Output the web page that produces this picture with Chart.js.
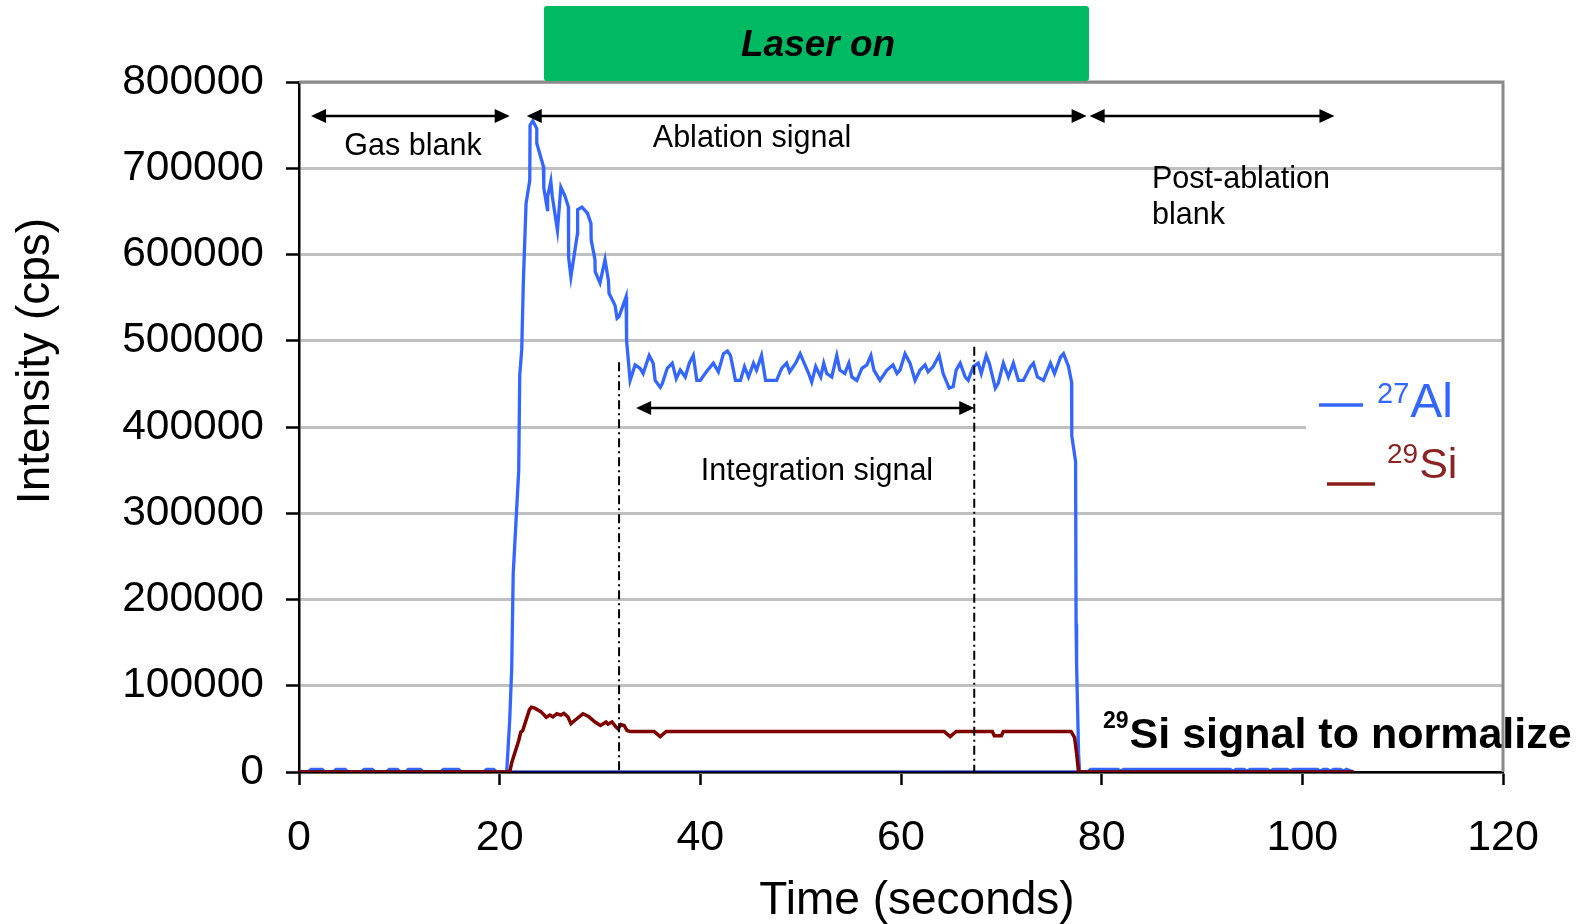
<!DOCTYPE html>
<html>
<head>
<meta charset="utf-8">
<script src="https://cdn.jsdelivr.net/npm/chart.js@4.4.0/dist/chart.umd.min.js"></script>
<style>
  html, body { margin: 0; padding: 0; background: #fff; overflow: hidden; }
  #wrap { width: 1577px; height: 924px; }
</style>
</head>
<body>
<div id="wrap"><canvas id="chart" width="1577" height="924"></canvas></div>
<script>
// time (s), intensity (cps)
const al27 = [
  [0, 0], [0.9, 0], [1.2, 3000], [2.3, 3000], [2.6, 0], [3.4, 0], [3.7, 3000], [4.6, 3000], [4.9, 0],
  [6.2, 0], [6.5, 3000], [7.3, 3000], [7.6, 0], [8.7, 0], [9.0, 3000], [9.8, 3000], [10.1, 0],
  [10.6, 0], [10.9, 3000], [12.1, 3000], [12.4, 0], [14.1, 0], [14.4, 3000], [15.9, 3000], [16.2, 0],
  [18.4, 0], [18.7, 3000], [19.4, 3000], [19.7, 0], [20.7, 0],
  [21.0, 60000], [21.2, 120000], [21.35, 230000], [21.9, 350000], [22.0, 460000], [22.2, 490000],
  [22.36, 568000], [22.63, 659000], [23.0, 686000], [23.03, 750000], [23.3, 755000], [23.7, 746000],
  [23.7, 729000], [24.36, 702000], [24.4, 677000], [24.76, 652000], [24.78, 667000], [25.1, 685000],
  [25.25, 667000], [25.76, 628000], [26.1, 678000], [26.5, 668000], [26.85, 655000], [26.87, 597000],
  [27.1, 574000], [27.75, 624000], [27.77, 652000], [28.2, 655000], [28.75, 648000], [29.1, 636000],
  [29.12, 617000], [29.5, 594000], [29.52, 580000], [30.0, 567000], [30.5, 594000], [30.84, 570000],
  [30.9, 555000], [31.5, 541000], [31.7, 526000], [31.9, 528000], [32.6, 551000], [32.65, 500000],
  [33.0, 454000], [33.5, 472000], [34.0, 468000], [34.3, 462000], [34.9, 483000], [35.3, 474000],
  [35.5, 454000], [36.0, 446000], [36.2, 450000], [36.7, 468000], [37.2, 474000], [37.6, 456000],
  [38.0, 466000], [38.5, 458000], [38.9, 474000], [39.3, 483000], [39.65, 454000], [40.0, 454000],
  [40.6, 464000], [41.3, 474000], [41.8, 464000], [42.3, 485000], [42.7, 488000], [43.0, 483000],
  [43.3, 466000], [43.5, 454000], [44.0, 454000], [44.4, 470000], [44.8, 458000], [45.3, 474000],
  [45.6, 466000], [46.1, 483000], [46.5, 454000], [47.6, 454000], [48.1, 468000], [48.6, 474000],
  [48.9, 464000], [49.5, 474000], [49.95, 485000], [50.35, 474000], [50.8, 462000], [51.1, 452000],
  [51.5, 470000], [52.0, 458000], [52.3, 474000], [52.6, 462000], [53.1, 458000], [53.6, 483000],
  [53.9, 466000], [54.4, 462000], [54.8, 474000], [55.1, 458000], [55.6, 454000], [56.1, 468000],
  [56.6, 472000], [57.0, 483000], [57.3, 466000], [57.9, 454000], [58.6, 466000], [59.2, 472000],
  [59.6, 462000], [59.9, 466000], [60.4, 485000], [60.9, 474000], [61.4, 454000], [61.9, 466000],
  [62.4, 472000], [62.7, 464000], [63.2, 470000], [63.8, 483000], [64.2, 462000], [64.8, 445000],
  [65.2, 447000], [65.5, 466000], [65.9, 474000], [66.4, 458000], [66.7, 454000], [67.2, 470000],
  [67.7, 474000], [68.0, 462000], [68.5, 483000], [68.8, 474000], [69.4, 445000], [69.7, 451000],
  [70.2, 474000], [70.7, 458000], [71.2, 474000], [71.7, 454000], [72.2, 454000], [72.9, 470000],
  [73.2, 474000], [73.6, 458000], [74.2, 454000], [74.9, 474000], [75.3, 462000], [75.9, 481000],
  [76.2, 485000], [76.7, 470000], [77.0, 452000], [77.02, 390000], [77.4, 360000], [77.45, 172000],
  [77.5, 126000], [77.7, 21000], [77.8, 0], [78.6, 0], [78.9, 3000], [81.6, 3000], [81.9, 1000],
  [82.2, 3000], [92.8, 3000], [93.1, 1000], [93.4, 3000], [94.2, 3000], [94.5, 1000], [94.8, 3000],
  [96.5, 3000], [96.8, 1000], [97.1, 3000], [98.5, 3000], [98.8, 1000], [99.1, 3000], [101.5, 3000],
  [101.8, 1000], [102.1, 3000], [102.5, 3000], [102.8, 1000], [103.1, 3000], [103.8, 3000],
  [104.1, 1000], [104.4, 3000], [105.1, 0]
];

const si29 = [
  [0, 0], [21.0, 0], [21.2, 10700], [21.9, 36500], [22.1, 46000], [22.3, 48000], [22.96, 72000],
  [23.15, 75000], [23.5, 74000], [24.1, 70000], [24.65, 63500], [25.0, 66000], [25.3, 64000],
  [25.7, 67500], [26.1, 66000], [26.4, 68000], [26.8, 64000], [27.1, 56000], [27.5, 60000],
  [28.3, 67500], [28.9, 64000], [29.5, 58000], [30.05, 54000], [30.6, 58000], [30.8, 55500],
  [31.2, 58000], [31.6, 52000], [31.8, 50000], [32.1, 55000], [32.4, 54000], [32.7, 48000],
  [33.0, 47000], [35.4, 47000], [36.0, 41000], [36.6, 47000], [64.3, 47000], [64.9, 41000],
  [65.5, 47000], [69.1, 47000], [69.3, 42000], [70.0, 42000], [70.2, 47000], [76.95, 47000],
  [77.3, 40000], [77.5, 22000], [77.7, 0], [105.1, 0]
];

const zeroLine = [[0, 0], [105.1, 0]];

const xRange = [0, 120];
const yRange = [0, 800000];
const xStep = 20;
const yStep = 100000;

const FONT = "'Liberation Sans', Arial, Helvetica, sans-serif";
Chart.defaults.font.family = FONT;
Chart.defaults.color = "#000";

const toXY = (arr) => arr.map(([x, y]) => ({ x, y }));

/* ---------- overlay: frame, labels, arrows, legend ---------- */
function arrow(ctx, x1, x2, yy) {
  const L = 15, H = 7;
  ctx.beginPath();
  ctx.moveTo(x1 + L - 2, yy);
  ctx.lineTo(x2 - L + 2, yy);
  ctx.stroke();
  ctx.beginPath();
  ctx.moveTo(x1, yy);
  ctx.lineTo(x1 + L, yy - H);
  ctx.lineTo(x1 + L, yy + H);
  ctx.closePath();
  ctx.fill();
  ctx.beginPath();
  ctx.moveTo(x2, yy);
  ctx.lineTo(x2 - L, yy - H);
  ctx.lineTo(x2 - L, yy + H);
  ctx.closePath();
  ctx.fill();
}

function supText(ctx, x, y, sup, main, supFont, mainFont, supRise) {
  ctx.textAlign = "left";
  ctx.textBaseline = "alphabetic";
  ctx.font = supFont;
  ctx.fillText(sup, x, y - supRise);
  const w = ctx.measureText(sup).width;
  ctx.font = mainFont;
  ctx.fillText(main, x + w + 1, y);
}

const overlay = {
  id: "overlay",
  afterDraw(chart) {
    const { ctx, chartArea: a, scales } = chart;
    const sx = (v) => scales.x.getPixelForValue(v);
    const sy = (v) => scales.y.getPixelForValue(v);
    ctx.save();

    // axis titles
    ctx.fillStyle = "#000";
    ctx.font = "46px " + FONT;
    ctx.textAlign = "center";
    ctx.textBaseline = "alphabetic";
    ctx.fillText("Time (seconds)", 917, 914);
    ctx.save();
    ctx.translate(49, 361);
    ctx.rotate(-Math.PI / 2);
    ctx.fillText("Intensity (cps)", 0, 0);
    ctx.restore();

    // legend backing
    ctx.fillStyle = "#fff";
    ctx.fillRect(1306, 362, a.right - 1306 - 1, 136);

    // dash-dot integration limits
    ctx.strokeStyle = "#000";
    ctx.lineWidth = 2;
    ctx.setLineDash([9, 4, 2, 4]);
    [[31.9, 475000], [67.3, 493000]].forEach(([t, top]) => {
      ctx.beginPath();
      ctx.moveTo(sx(t), sy(top));
      ctx.lineTo(sx(t), sy(0));
      ctx.stroke();
    });
    ctx.setLineDash([]);

    // arrows
    ctx.lineWidth = 2.5;
    ctx.fillStyle = "#000";
    [[1.2, 21.0, 760500], [22.7, 78.5, 760500], [78.8, 103.2, 760500], [33.6, 67.3, 422000]]
      .forEach(([t1, t2, v]) => arrow(ctx, sx(t1), sx(t2), sy(v)));

    // annotation text
    ctx.font = "30.5px " + FONT;
    ctx.textBaseline = "middle";
    ctx.textAlign = "center";
    ctx.fillText("Gas blank", 413, 147);
    ctx.fillText("Ablation signal", 752, 139);
    ctx.fillText("Integration signal", 817, 472);
    ctx.textAlign = "left";
    ctx.fillText("Post-ablation", 1152, 180);
    ctx.fillText("blank", 1152, 216);

    // legend
    ctx.lineWidth = 3.5;
    ctx.strokeStyle = "#3366ff";
    ctx.beginPath(); ctx.moveTo(1319, 405); ctx.lineTo(1363, 405); ctx.stroke();
    ctx.fillStyle = "#3366ff";
    supText(ctx, 1377, 417, "27", "Al", "29px " + FONT, "48px " + FONT, 14);
    ctx.strokeStyle = "#8b1c1c";
    ctx.beginPath(); ctx.moveTo(1327, 484); ctx.lineTo(1375, 484); ctx.stroke();
    ctx.fillStyle = "#8b2323";
    supText(ctx, 1387, 478, "29", "Si", "28px " + FONT, "43px " + FONT, 15);

    // normalisation note
    ctx.fillStyle = "#000";
    supText(ctx, 1103, 748, "29", "Si signal to normalize", "bold 23px " + FONT, "bold 43px " + FONT, 20);

    // plot frame top / right
    ctx.strokeStyle = "#8a8a8a";
    ctx.lineWidth = 3;
    ctx.beginPath();
    ctx.moveTo(a.left, a.top);
    ctx.lineTo(a.right, a.top);
    ctx.lineTo(a.right, a.bottom);
    ctx.stroke();

    // laser box
    ctx.fillStyle = "#00ba63";
    ctx.beginPath();
    ctx.roundRect(544, 6, 545, 75, 3);
    ctx.fill();
    ctx.fillStyle = "#000";
    ctx.font = "italic bold 37px " + FONT;
    ctx.textAlign = "center";
    ctx.textBaseline = "middle";
    ctx.fillText("Laser on", 818, 46);

    ctx.restore();
  }
};

const lineSet = (label, data, color, width) => ({
  label,
  data: toXY(data),
  showLine: true,
  borderColor: color,
  backgroundColor: color,
  borderWidth: width,
  pointRadius: 0,
  tension: 0,
  fill: false
});

new Chart(document.getElementById("chart"), {
  type: "scatter",
  data: {
    datasets: [
      lineSet("29Si", si29, "#800000", 3.5),
      lineSet("zero", zeroLine, "#000080", 3),
      lineSet("27Al", al27, "#3366ff", 3.3)
    ]
  },
  options: {
    responsive: false,
    animation: false,
    layout: { padding: { left: 0, top: 82, right: 74, bottom: 0 } },
    plugins: { legend: { display: false }, tooltip: { enabled: false } },
    scales: {
      x: {
        type: "linear",
        min: xRange[0],
        max: xRange[1],
        afterFit(s) { s.height = 152; },
        ticks: { stepSize: xStep, padding: 27, font: { size: 43 }, color: "#000" },
        grid: { drawOnChartArea: false, drawTicks: true, tickLength: 13, tickColor: "#000", tickWidth: 2.5 },
        border: { color: "#000", width: 2.5 }
      },
      y: {
        min: yRange[0],
        max: yRange[1],
        afterFit(s) { s.width = 299; },
        ticks: { stepSize: yStep, padding: 22, font: { size: 42.5 }, color: "#000", callback: (v) => String(v) },
        grid: {
          color: "#c0c0c0", lineWidth: 3,
          drawTicks: true, tickLength: 13, tickColor: "#000", tickWidth: 2.5
        },
        border: { color: "#000", width: 2.5 }
      }
    }
  },
  plugins: [overlay]
});
</script>
</body>
</html>
